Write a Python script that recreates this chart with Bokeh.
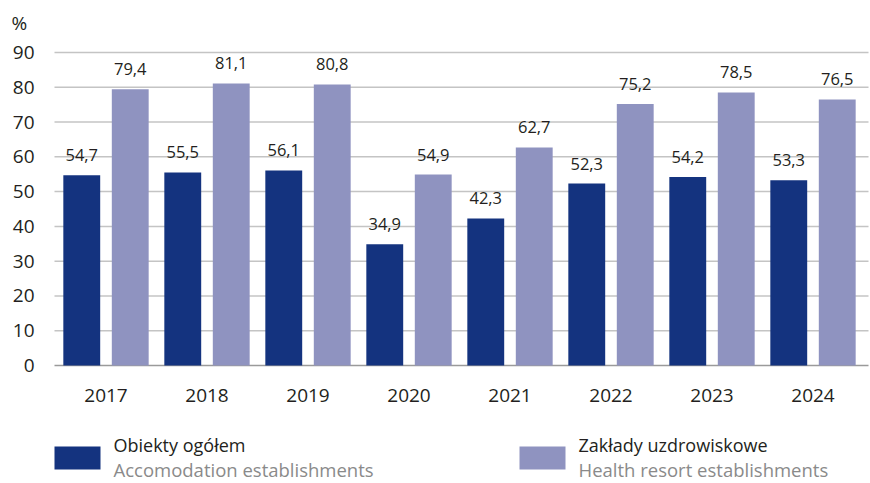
from bokeh.plotting import figure
from bokeh.models import ColumnDataSource, Range1d
from bokeh.embed import file_html
from bokeh.resources import INLINE
from bokeh.core.properties import value

years = ["2017", "2018", "2019", "2020", "2021", "2022", "2023", "2024"]
obiekty = [54.7, 55.5, 56.1, 34.9, 42.3, 52.3, 54.2, 53.3]
zaklady = [79.4, 81.1, 80.8, 54.9, 62.7, 75.2, 78.5, 76.5]
y_ticks = [0, 10, 20, 30, 40, 50, 60, 70, 80, 90]
y_unit = "%"
series_names = ["Obiekty ogółem", "Zakłady uzdrowiskowe"]
series_en = ["Accomodation establishments", "Health resort establishments"]

DARK = "#14337f"
LIGHT = "#8f93c0"
TXT = "#231f20"
GREY_TXT = "#8a8a8a"
FONT = "Open Sans"

W, H = 870, 483
PX_X = 101.0            # pixels per category
PX_Y = 313 / 90.0       # pixels per unit
x0 = -105.5 / PX_X      # left edge of canvas in category units
y1 = 90 + 52 / PX_Y     # top edge of canvas in data units
y0 = 90 - (H - 52) / PX_Y

def cx(px):             # canvas px -> x data
    return x0 + px / PX_X

def cy(py):             # canvas px from top -> y data
    return y1 - py / PX_Y

pos = list(range(len(years)))
src = ColumnDataSource(dict(
    pos=pos, years=years, obiekty=obiekty, zaklady=zaklady,
    pos_o=[i - 0.24 for i in pos], pos_z=[i + 0.24 for i in pos],
    obiekty_lbl=[f"{v:.1f}".replace(".", ",") for v in obiekty],
    zaklady_lbl=[f"{v:.1f}".replace(".", ",") for v in zaklady],
))

p = figure(width=W, height=H, x_range=Range1d(x0, x0 + W / PX_X), y_range=Range1d(y0, y1),
           output_backend="svg", toolbar_location=None,
           min_border=0, min_border_left=0, min_border_right=0, min_border_top=0, min_border_bottom=0)
p.axis.visible = False
p.grid.visible = False
p.outline_line_color = None

# gridlines
grid_left = cx(54)
grid_right = cx(868)
p.segment(x0=[grid_left] * (len(y_ticks) - 1), x1=[grid_right] * (len(y_ticks) - 1),
          y0=y_ticks[1:], y1=y_ticks[1:], line_color="#c4c4c4", line_width=1.5)
p.segment(x0=[grid_left], x1=[grid_right], y0=[0], y1=[0], line_color="#9a9a9a", line_width=1.5)

# y tick labels
p.text(x=[cx(34)] * len(y_ticks), y=y_ticks, text=[str(t) for t in y_ticks],
       text_font=value(FONT), text_font_size="19px", text_color=TXT,
       text_align="right", text_baseline="middle")
p.text(x=[cx(11)], y=[cy(22)], text=[y_unit], text_font=value(FONT), text_font_size="19px",
       text_color=TXT, text_align="left", text_baseline="middle")

# bars
p.vbar(x="pos_o", top="obiekty", width=0.365, source=src, color=DARK, line_color=None)
p.vbar(x="pos_z", top="zaklady", width=0.365, source=src, color=LIGHT, line_color=None)

# value labels
p.text(x="pos_o", y="obiekty", text="obiekty_lbl", source=src, y_offset=-20,
       text_font=value(FONT), text_font_size="16.5px", text_color=TXT,
       text_align="center", text_baseline="middle")
p.text(x="pos_z", y="zaklady", text="zaklady_lbl", source=src, y_offset=-20,
       text_font=value(FONT), text_font_size="16.5px", text_color=TXT,
       text_align="center", text_baseline="middle")

# category labels
p.text(x="pos", y=cy(394.5), text="years", source=src, text_font=value(FONT),
       text_font_size="19px", text_color=TXT, text_align="center", text_baseline="middle")

# legend
colors = [DARK, LIGHT]
sw_px = [54, 519]
for i in range(2):
    p.quad(left=cx(sw_px[i]), right=cx(sw_px[i] + 46), bottom=cy(469), top=cy(446),
           color=colors[i], line_color=None)
    p.text(x=[cx(sw_px[i] + 59)], y=[cy(444)], text=[series_names[i]], text_font=value(FONT),
           text_font_size="18px", text_color=TXT, text_baseline="middle")
    p.text(x=[cx(sw_px[i] + 59)], y=[cy(469)], text=[series_en[i]], text_font=value(FONT),
           text_font_size="18.5px", text_color=GREY_TXT, text_baseline="middle")

open("out.html", "w").write(file_html(p, INLINE))
